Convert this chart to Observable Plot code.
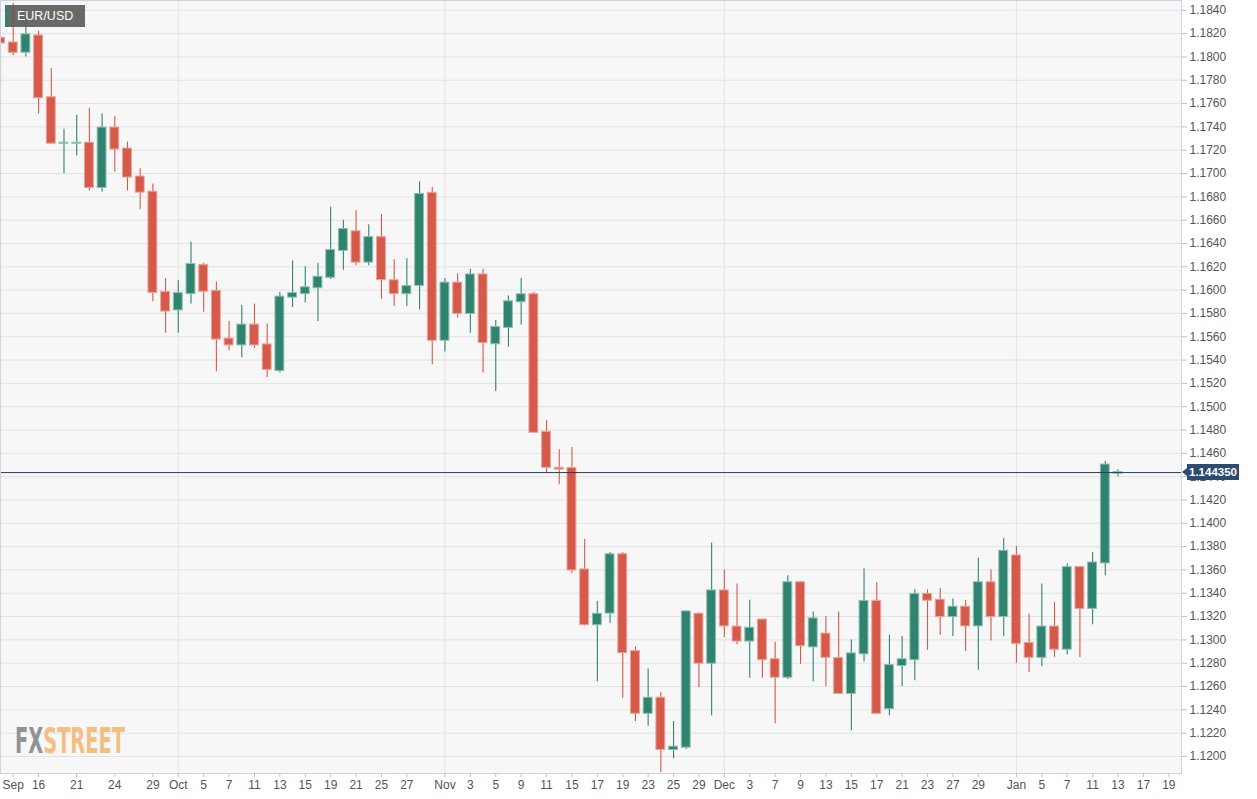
<!DOCTYPE html>
<html><head><meta charset="utf-8">
<script src="https://cdn.jsdelivr.net/npm/d3@7"></script>
<script src="https://cdn.jsdelivr.net/npm/@observablehq/plot@0.6"></script>
<style>
html,body{margin:0;padding:0;background:#fff;}
#chart{width:1257px;height:799px;overflow:hidden;}
</style></head><body><div id="chart"></div>
<script>
// Trading days on the axis (last four are future days with ticks only)
const axisDays = [
"2021-09-13","2021-09-14","2021-09-15","2021-09-16","2021-09-17","2021-09-20","2021-09-21","2021-09-22","2021-09-23","2021-09-24","2021-09-27","2021-09-28","2021-09-29","2021-09-30",
"2021-10-01","2021-10-04","2021-10-05","2021-10-06","2021-10-07","2021-10-08","2021-10-11","2021-10-12","2021-10-13","2021-10-14","2021-10-15","2021-10-18","2021-10-19","2021-10-20","2021-10-21","2021-10-22","2021-10-25","2021-10-26","2021-10-27","2021-10-28","2021-10-29",
"2021-11-01","2021-11-02","2021-11-03","2021-11-04","2021-11-05","2021-11-08","2021-11-09","2021-11-10","2021-11-11","2021-11-12","2021-11-15","2021-11-16","2021-11-17","2021-11-18","2021-11-19","2021-11-22","2021-11-23","2021-11-24","2021-11-25","2021-11-26","2021-11-29","2021-11-30",
"2021-12-01","2021-12-02","2021-12-03","2021-12-06","2021-12-07","2021-12-08","2021-12-09","2021-12-10","2021-12-13","2021-12-14","2021-12-15","2021-12-16","2021-12-17","2021-12-20","2021-12-21","2021-12-22","2021-12-23","2021-12-24","2021-12-27","2021-12-28","2021-12-29","2021-12-30","2021-12-31",
"2022-01-03","2022-01-04","2022-01-05","2022-01-06","2022-01-07","2022-01-10","2022-01-11","2022-01-12","2022-01-13","2022-01-14","2022-01-17","2022-01-18","2022-01-19"
];

const open = [1.1816,1.1812,1.1804,1.1818,1.1765,1.1726,1.1726,1.1726,1.1688,1.1739,1.1721,1.1697,1.1684,1.1598,
1.1583,1.1597,1.1621,1.1599,1.1558,1.1553,1.1570,1.1553,1.1531,1.1594,1.1597,1.1602,1.1611,1.1634,1.1650,1.1624,1.1645,1.1608,1.1597,1.1604,1.1683,
1.1557,1.1606,1.1580,1.1613,1.1554,1.1568,1.1590,1.1596,1.1478,1.14472,1.1447,1.1360,1.1313,1.1323,1.1373,1.1290,1.1237,1.1250,1.1206,1.1208,1.1322,1.1280,
1.1342,1.1311,1.1299,1.1317,1.1283,1.1268,1.1349,1.1294,1.1305,1.1284,1.1254,1.1288,1.1333,1.1241,1.1278,1.1283,1.1339,1.1334,1.1320,1.1328,1.1312,1.1349,1.1320,
1.1372,1.1297,1.1285,1.1311,1.1292,1.1362,1.1327,1.1366,1.1443];
const high = [1.1820,1.1846,1.1831,1.1822,1.1790,1.1738,1.1750,1.1756,1.1751,1.1749,1.1727,1.1704,1.1691,1.1610,
1.1608,1.1641,1.1623,1.1607,1.1573,1.1587,1.1588,1.1571,1.1598,1.1625,1.1620,1.1623,1.1671,1.1660,1.1668,1.1656,1.1665,1.1626,1.1627,1.1693,1.1688,
1.1610,1.1614,1.1618,1.1618,1.1574,1.1595,1.1610,1.1598,1.1488,1.1463,1.1465,1.1386,1.1333,1.1375,1.1375,1.1294,1.1275,1.1255,1.1230,1.1325,1.1323,1.1383,
1.1360,1.1348,1.1334,1.1318,1.1298,1.1355,1.1350,1.1324,1.1320,1.1324,1.1300,1.1361,1.1349,1.1304,1.1303,1.1343,1.1343,1.1344,1.1335,1.1334,1.1370,1.1360,1.1387,
1.1380,1.1322,1.1348,1.1332,1.1365,1.1362,1.1375,1.1453,1.1446];
const low = [1.1771,1.1801,1.1800,1.1751,1.1725,1.1700,1.1715,1.1685,1.1684,1.1701,1.1685,1.1669,1.1590,1.1563,
1.1563,1.1588,1.1581,1.1530,1.1548,1.1542,1.1550,1.1525,1.1529,1.1585,1.1589,1.1573,1.1609,1.1617,1.1621,1.1621,1.1592,1.1586,1.1586,1.1583,1.1536,
1.1547,1.1576,1.1563,1.1529,1.1513,1.1551,1.1570,1.1478,1.1443,1.1433,1.1357,1.1312,1.1264,1.1314,1.1250,1.1230,1.1226,1.1186,1.1198,1.1206,1.1259,1.1235,
1.1302,1.1296,1.1267,1.1267,1.1228,1.1266,1.1279,1.1264,1.1260,1.1254,1.1222,1.1281,1.1236,1.1235,1.1260,1.1265,1.1291,1.1304,1.1303,1.1290,1.1274,1.1299,1.1303,
1.1280,1.1272,1.1277,1.1285,1.1287,1.1285,1.1313,1.1355,1.1440];
const close = [1.1812,1.1804,1.1819,1.1765,1.1726,1.1726,1.1726,1.1688,1.1739,1.1721,1.1697,1.1684,1.1598,1.1582,
1.1597,1.1622,1.1599,1.1558,1.1553,1.1570,1.1553,1.1532,1.1594,1.1597,1.1602,1.1611,1.1634,1.1652,1.1624,1.1645,1.1609,1.1597,1.1603,1.1682,1.1557,
1.1606,1.1580,1.1613,1.1555,1.1568,1.1590,1.1596,1.1478,1.1448,1.14465,1.1360,1.1313,1.1322,1.1373,1.1289,1.1237,1.1250,1.1206,1.1208,1.1324,1.1280,1.1342,
1.1312,1.1299,1.1310,1.1283,1.1268,1.1349,1.1295,1.1318,1.1285,1.1254,1.1288,1.1333,1.1237,1.1278,1.1283,1.1339,1.1334,1.1320,1.1328,1.1312,1.1349,1.1320,1.1376,
1.1297,1.1285,1.1311,1.1292,1.1362,1.1327,1.1366,1.1450,1.14435];

const yTicks = [1.1200,1.1220,1.1240,1.1260,1.1280,1.1300,1.1320,1.1340,1.1360,1.1380,1.1400,1.1420,1.1440,1.1460,1.1480,1.1500,1.1520,1.1540,1.1560,1.1580,1.1600,1.1620,1.1640,1.1660,1.1680,1.1700,1.1720,1.1740,1.1760,1.1780,1.1800,1.1820,1.1840];

const tickDates = ["2021-09-14","2021-09-16","2021-09-21","2021-09-24","2021-09-29","2021-10-01","2021-10-05","2021-10-07","2021-10-11","2021-10-13","2021-10-15","2021-10-19","2021-10-21","2021-10-25","2021-10-27","2021-11-01","2021-11-03","2021-11-05","2021-11-09","2021-11-11","2021-11-15","2021-11-17","2021-11-19","2021-11-23","2021-11-25","2021-11-29","2021-12-01","2021-12-03","2021-12-07","2021-12-09","2021-12-13","2021-12-15","2021-12-17","2021-12-21","2021-12-23","2021-12-27","2021-12-29","2022-01-03","2022-01-05","2022-01-07","2022-01-11","2022-01-13","2022-01-17","2022-01-19"];
const tickLabels = ["Sep","16","21","24","29","Oct","5","7","11","13","15","19","21","25","27","Nov","3","5","9","11","15","17","19","23","25","29","Dec","3","7","9","13","15","17","21","23","27","29","Jan","5","7","11","13","17","19"];
const monthStarts = ["2021-10-01","2021-11-01","2021-12-01","2022-01-03"];

const lastPrice = 1.14435;
const lastPriceLabel = "1.144350";
const symbol = "EUR/USD";

const GREEN = "#30846f", RED = "#d55a4a", GREEN_EDGE = "#8fc0b2", RED_EDGE = "#eaa49b";

const candles = open.map((o, k) => ({k, date: axisDays[k], open: o, high: high[k], low: low[k], close: close[k], up: close[k] >= o}));
const tickIdx = tickDates.map(d => axisDays.indexOf(d));
const labelMap = new Map(tickIdx.map((k, i) => [k, tickLabels[i]]));

const plot = Plot.plot({
  width: 1257, height: 799,
  marginLeft: 0, marginRight: 76, marginTop: 0, marginBottom: 26,
  style: {background: "#ffffff", fontFamily: "'Liberation Sans', Arial, sans-serif", overflow: "visible"},
  x: {type: "linear", domain: [0, 93], axis: null},
  y: {type: "linear", domain: [1.11854, 1.18484], axis: null},
  marks: [
    Plot.frame({fill: "#f7f7f7"}),
    Plot.ruleY(yTicks, {stroke: "#e3e3e3"}),
    Plot.ruleX(monthStarts.map(d => axisDays.indexOf(d)), {stroke: "#e3e3e3"}),
    Plot.ruleX(candles, {x: "k", y1: "low", y2: "high", stroke: d => d.up ? GREEN : RED, strokeWidth: 1.1}),
    Plot.rect(candles, {x1: d => d.k - 0.35, x2: d => d.k + 0.35, y1: "open", y2: "close",
      fill: d => d.up ? GREEN : RED, stroke: d => d.up ? GREEN_EDGE : RED_EDGE, strokeWidth: 1,
      insetTop: -0.5, insetBottom: -0.5}),
    Plot.ruleY([lastPrice], {stroke: "#2b3b58", strokeWidth: 1}),
    Plot.frame({stroke: "#cdd3e4"}),
    Plot.axisY({anchor: "right", ticks: yTicks, tickFormat: d => d.toFixed(4), tickSize: 5, tickPadding: 3,
      fontSize: 12, fill: "#555", stroke: "#b9c0d6", label: null}),
    Plot.axisX({ticks: tickIdx, tickFormat: d => labelMap.get(d), tickSize: 4, tickPadding: 3,
      fontSize: 12, fill: "#555", stroke: "#b9c0d6", label: null})
  ]
});
document.getElementById("chart").appendChild(plot);

const svg = d3.select(plot);
const yS = plot.scale("y");
const py = yS.apply(lastPrice);
const xr = plot.scale("x").range[1];

// watermark (placed beneath the candles)
const wm = svg.insert("text", ":scope > g:nth-of-type(4)")
  .attr("x", 15).attr("y", 753).attr("text-anchor", "start")
  .attr("font-family", "'Liberation Sans Narrow','DejaVu Sans Condensed',sans-serif")
  .attr("font-weight", "bold").attr("font-size", 36)
  .attr("textLength", 110).attr("lengthAdjust", "spacingAndGlyphs");
wm.append("tspan").attr("fill", "#8f9297").text("FX");
wm.append("tspan").attr("fill", "#f2bf80").text("STREET");

// symbol badge
const badge = svg.append("g");
badge.append("rect").attr("x", 5).attr("y", 5).attr("width", 80).attr("height", 22).attr("fill", "#555").attr("fill-opacity", 0.88);
badge.append("rect").attr("x", 5).attr("y", 5).attr("width", 3).attr("height", 22).attr("fill", GREEN);
badge.append("text").attr("x", 17).attr("y", 16).attr("dy", "0.35em").attr("fill", "#fff").attr("text-anchor", "start")
  .attr("font-size", 12.5).attr("font-family", "'Liberation Sans', Arial, sans-serif").text(symbol);

// last price label
const lp = svg.append("g");
const x0 = xr + 1;
lp.append("path")
  .attr("d", `M${x0},${py} L${x0 + 5},${py - 4} L${x0 + 5},${py - 8} L${x0 + 57},${py - 8} L${x0 + 57},${py + 8} L${x0 + 5},${py + 8} L${x0 + 5},${py + 4} Z`)
  .attr("fill", "#2d4a6f");
lp.append("text").attr("x", x0 + 7).attr("y", py).attr("dy", "0.35em").attr("fill", "#fff").attr("text-anchor", "start")
  .attr("font-size", 11.5).attr("font-weight", "bold").attr("font-family", "'Liberation Sans', Arial, sans-serif")
  .text(lastPriceLabel);
</script>
</body></html>
